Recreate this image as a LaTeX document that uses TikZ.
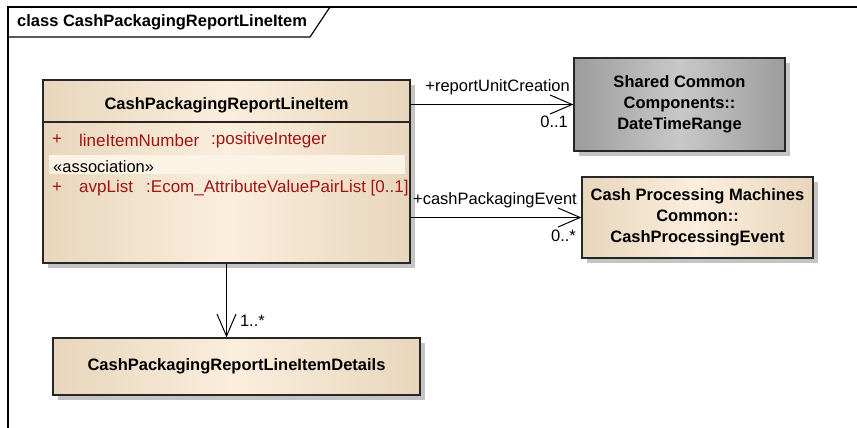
\documentclass[tikz,border=0pt]{standalone}
\usepackage{fontspec}
\setmainfont{Liberation Sans}
\usetikzlibrary{arrows.meta,shadows,calc}

\definecolor{umlside}{HTML}{E8D6BC}
\definecolor{umlmid}{HTML}{FBEEDD}
\definecolor{extside}{HTML}{9C9C9C}
\definecolor{extmid}{HTML}{C8C8C8}
\definecolor{attrred}{RGB}{160,20,20}
\definecolor{shadowgray}{HTML}{C4C4C4}

\tikzset{
  txt/.style={font=\fontsize{16.5}{21}\selectfont, inner sep=0pt},
  boldtxt/.style={font=\bfseries\fontsize{16.5}{21}\selectfont, inner sep=0pt, align=center},
  umlclass/.style={rectangle, draw=black!85, line width=1.3pt, boldtxt,
    left color=umlside, right color=umlside, middle color=umlmid,
    drop shadow={shadow xshift=5pt, shadow yshift=-5pt, fill=shadowgray, opacity=1}},
  extclass/.style={umlclass, left color=extside, right color=extside, middle color=extmid},
  attr/.style={font=\fontsize{17}{21}\selectfont, inner sep=0pt, text=attrred, anchor=west},
  assoc/.style={line width=1pt, -{Straight Barb[length=22pt,width=19pt,line width=1pt]}},
  role/.style={txt, anchor=east}
}

\begin{document}
\begin{tikzpicture}[x=1pt,y=-1pt]
\useasboundingbox (0,0) rectangle (857,428);

% diagram frame
\draw[line width=1.2pt] (8,428) -- (8,7) -- (857,7);
\draw[line width=1.2pt] (8,37) -- (310,37) -- (330,7);
\node[boldtxt, anchor=west] (title) at (17,22) {class CashPackagingReportLineItem};

% classes
\node[umlclass, minimum width=367pt, minimum height=183pt] (main) at (226.5,171.5) {};
\node[extclass, minimum width=211pt, minimum height=93pt] (dtr) at (679.5,104.5)
  {Shared Common\\Components::\\DateTimeRange};
\node[umlclass, minimum width=231pt, minimum height=81pt] (cpe) at (697.5,217.5)
  {Cash Processing Machines\\Common::\\CashProcessingEvent};
\node[umlclass, minimum width=367pt, minimum height=57pt] (details) at (236.5,366.5)
  {CashPackagingReportLineItemDetails};

% compartments of the main class
\node[boldtxt] (mainname) at (main.north |- 0,105) {CashPackagingReportLineItem};
\draw[line width=1.3pt, black!85] (main.west |- 0,122) -- (main.east |- 0,122);
\fill[umlmid!70!white] (49,155) rectangle (405,174);
\node[attr] (vis1) at (52,140) {+};
\node[attr] (attr1) at (79,140) {lineItemNumber};
\node[attr] (type1) at (211,140) {:positiveInteger};
\node[txt, anchor=west] (stereo) at (53,167) {«association»};
\node[attr] (vis2) at (52,188) {+};
\node[attr] (attr2) at (79,188) {avpList};
\node[attr] (type2) at (146,188) {:Ecom\_AttributeValuePairList [0..1]};

% associations
\draw[assoc] (main.east |- dtr.west) -- (dtr.west)
  node[role, pos=1, xshift=-3pt, yshift=17pt] (r1) {+reportUnitCreation}
  node[role, pos=1, xshift=-5pt, yshift=-17.5pt] (m1) {0..1};
\draw[assoc] (main.east |- cpe.west) -- (cpe.west)
  node[role, pos=1, xshift=-4pt, yshift=17.5pt] (r2) {+cashPackagingEvent}
  node[role, pos=1, xshift=-5pt, yshift=-18.5pt] (m2) {0..*};
\draw[assoc] (main.south) -- (main.south |- details.north)
  node[txt, anchor=west, pos=1, xshift=13pt, yshift=17pt] (m3) {1..*};
\end{tikzpicture}
\end{document}
